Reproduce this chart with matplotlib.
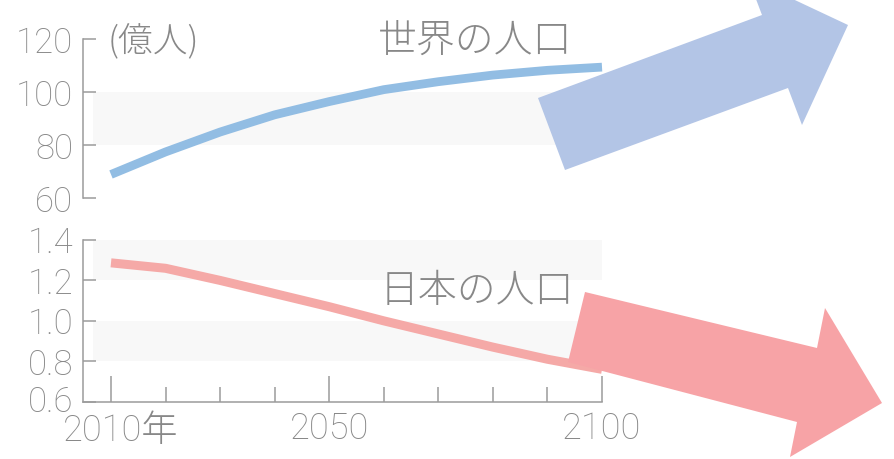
import matplotlib
matplotlib.use("Agg")
import matplotlib.pyplot as plt
import matplotlib.transforms as mtrans
from matplotlib.patches import Polygon

# data
years = [2010, 2020, 2030, 2040, 2050, 2060, 2070, 2080, 2090, 2100]
world = [69, 77.5, 85, 91.5, 96.5, 101, 104, 106.5, 108.3, 109.5]  # 億人
japan = [1.287, 1.26, 1.20, 1.135, 1.07, 1.00, 0.935, 0.87, 0.81, 0.76]  # 億人

world_ticks = [60, 80, 100, 120]
japan_ticks = [0.6, 0.8, 1.0, 1.2, 1.4]
japan_labels = ["0.6", "0.8", "1.0", "1.2", "1.4"]
major_years = [2010, 2050, 2100]
major_labels = ["2010年", "2050", "2100"]
minor_years = [2020, 2030, 2040, 2060, 2070, 2080, 2090]

fam = ["Roboto", "Noto Sans CJK JP", "DejaVu Sans"]
cjk = ["Noto Sans CJK JP", "DejaVu Sans"]

gray = "#888888"
line_gray = "#9b9b9b"
band = "#f8f8f8"

W, H = 895, 459
fig = plt.figure(figsize=(W / 100, H / 100), dpi=100)

xl = (2010 - 28 / 5.456, 2100)
ax1 = fig.add_axes([83 / W, 1 - 198.3 / H, 519 / W, 159 / H])
ax2 = fig.add_axes([83 / W, 1 - 401.7 / H, 519 / W, 161.7 / H])

for ax in (ax1, ax2):
    ax.set_xlim(*xl)
    ax.patch.set_alpha(0)
    for s in ax.spines.values():
        s.set_visible(False)
    ax.spines["left"].set_visible(True)
    ax.spines["left"].set_color(line_gray)
    ax.spines["left"].set_linewidth(1.1)
    ax.tick_params(axis="y", direction="in", length=9.5, width=1.1, color=line_gray,
                   pad=7, labelcolor=gray, labelsize=25)

# world
ax1.set_ylim(60, 120)
ax1.set_yticks(world_ticks)
ax1.set_yticklabels([str(v) for v in world_ticks], family=fam, weight="light")
ax1.set_xticks([])
ax1.axhspan(80, 100, xmin=0.02, color=band, zorder=0, lw=0)
ax1.plot(years, world, color="#92bde3", lw=6.3, solid_capstyle="butt", clip_on=False, zorder=2)
ax1.text(2009.3, 118.7, "(億人)", family=cjk, weight="light", fontsize=25, color=gray,
         va="center", ha="left")
ax1.text(2058.9, 119.5, "世界の人口", family=cjk, weight="light", fontsize=28, color=gray,
         va="center", ha="left")

# japan
ax2.set_ylim(0.6, 1.4)
ax2.set_yticks(japan_ticks)
ax2.set_yticklabels(japan_labels, family=fam, weight="light")
ax2.spines["bottom"].set_visible(True)
ax2.spines["bottom"].set_color(line_gray)
ax2.spines["bottom"].set_linewidth(1.1)
ax2.set_xticks(major_years)
ax2.set_xticklabels(major_labels, family=fam, weight="light")
ax2.set_xticks(minor_years, minor=True)
ax2.tick_params(axis="x", which="major", direction="in", length=19, width=1.1, color=line_gray,
                pad=7, labelcolor=gray, labelsize=26)
ax2.tick_params(axis="x", which="minor", direction="in", length=11, width=1.1, color=line_gray)
ax2.axhspan(1.2, 1.4, xmin=0.02, color=band, zorder=0, lw=0)
ax2.axhspan(0.8, 1.0, xmin=0.02, color=band, zorder=0, lw=0)
ax2.plot(years, japan, color="#f5a9a7", lw=6.5, solid_capstyle="butt", clip_on=False, zorder=2)
ax2.text(2059.3, 1.148, "日本の人口", family=cjk, weight="light", fontsize=28, color=gray,
         va="center", ha="left")

# nudge the two corner labels apart like in the reference
lab0 = ax2.get_xticklabels()[0]
lab0.set_transform(lab0.get_transform() + mtrans.ScaledTranslation(10 / 100, -2 / 100, fig.dpi_scale_trans))
ylab0 = ax2.get_yticklabels()[0]
ylab0.set_transform(ylab0.get_transform() + mtrans.ScaledTranslation(0, 3 / 100, fig.dpi_scale_trans))

# big arrows (pixel outlines of the reference)
blue_arrow = [(538, 98), (762, 15), (748, -22), (848, 25), (802, 125), (788, 88), (565, 170)]
pink_arrow = [(585, 292), (817, 348), (825, 308), (882, 403), (790, 457), (797, 422), (568, 362)]
for pts, col in ((blue_arrow, "#b3c5e6"), (pink_arrow, "#f7a3a6")):
    poly = Polygon([(x / W, 1 - y / H) for x, y in pts], closed=True, facecolor=col,
                   edgecolor="none", transform=fig.transFigure, zorder=5)
    fig.add_artist(poly)

fig.savefig("out.png", dpi=100)
